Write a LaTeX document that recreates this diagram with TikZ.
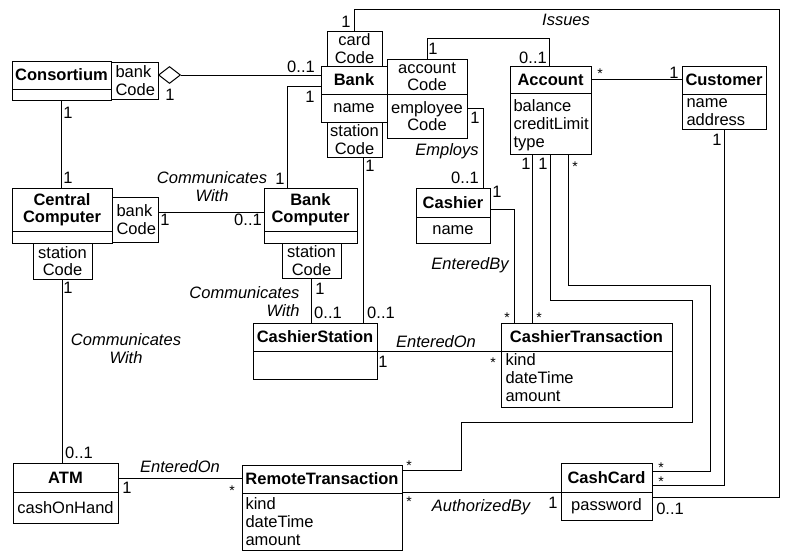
\documentclass[tikz,border=0pt]{standalone}
\usepackage{fontspec}
\setmainfont{Liberation Sans}
\usetikzlibrary{shapes.geometric}
\newcommand\umlbox[5]{\node[cls, minimum width={(#4-#2)*1pt}, minimum height={(#5-#3)*1pt}] (#1) at (#2,#3) {};}
\newcommand\divider[2]{\draw (#1.west |- 0,#2) -- (#1.east |- 0,#2);}
\begin{document}
\begin{tikzpicture}[x=1pt, y=-1pt, line width=1pt,
  cls/.style={draw, inner sep=0pt, outer sep=0pt, anchor=north west},
  txt/.style={inner sep=0pt, font=\fontsize{16.5}{17.5}\selectfont},
  ast/.style={inner sep=0pt, font=\fontsize{14}{14}\selectfont, yshift=-3.1pt},
  ttl/.style={inner sep=0pt, font=\fontsize{16.5}{17.5}\selectfont\bfseries, align=center},
  qual/.style={txt, align=center},
  itl/.style={inner sep=0pt, font=\fontsize{16.5}{17.5}\selectfont\itshape, align=center},
  attr/.style={txt, anchor=base west}]
\useasboundingbox (0,0) rectangle (794,557);

% ---------- classes ----------
\umlbox{cons}{12}{61}{111}{100}
\divider{cons}{89}
\node[ttl] (consT) at (61.5,75) {Consortium};
\umlbox{consq}{111}{62}{158}{99}
\node[qual, align=left, anchor=west] (consqT) at (115,80.5) {bank\\Code};
\node[diamond, draw, minimum width=22pt, minimum height=17pt, inner sep=0pt, anchor=west] (agg) at (158,75) {};

\umlbox{bank}{321}{66}{387}{122}
\divider{bank}{94}
\node[ttl] (bankT) at (354,80) {Bank};
\node[txt] (bankA) at (354,108) {name};
\umlbox{cq}{327}{31}{382}{66}
\node[qual] (cqT) at (354.5,48.5) {card\\Code};
\umlbox{bsq}{327}{122}{382}{157}
\node[qual] (bsqT) at (354.5,139.5) {station\\Code};
\umlbox{aq}{387}{59}{467}{94}
\node[qual] (aqT) at (427,76.5) {account\\Code};
\umlbox{eq}{387}{94}{467}{138}
\node[qual] (eqT) at (427,116) {employee\\Code};

\umlbox{acc}{510}{66}{591}{154}
\divider{acc}{93}
\node[ttl] (accT) at (550.5,79.5) {Account};
\node[attr] (accA1) at (513,111) {balance};
\node[attr] (accA2) at (513,129) {creditLimit};
\node[attr] (accA3) at (513,147) {type};

\umlbox{cus}{682}{66}{766}{129}
\divider{cus}{94}
\node[ttl] (cusT) at (724,80) {Customer};
\node[attr] (cusA1) at (686,107) {name};
\node[attr] (cusA2) at (686,125) {address};

\umlbox{cc}{12}{188}{112}{243}
\divider{cc}{231}
\node[ttl] (ccT) at (62,209.5) {Central\\Computer};
\umlbox{ccbq}{112}{197}{158}{242}
\node[qual, align=left, anchor=west] (ccbqT) at (116,219.5) {bank\\Code};
\umlbox{ccsq}{33}{243}{92}{279}
\node[qual] (ccsqT) at (62.5,261) {station\\Code};

\umlbox{bc}{264}{188}{357}{243}
\divider{bc}{231}
\node[ttl] (bcT) at (310.5,209.5) {Bank\\Computer};
\umlbox{bcsq}{282}{243}{341}{278}
\node[qual] (bcsqT) at (311.5,260.5) {station\\Code};

\umlbox{cas}{416}{188}{490}{243}
\divider{cas}{217}
\node[ttl] (casT) at (453,202.5) {Cashier};
\node[txt] (casA) at (453,230) {name};

\umlbox{cs}{253}{323}{377}{379}
\divider{cs}{351}
\node[ttl] (csT) at (315,337) {CashierStation};

\umlbox{ct}{501}{323}{672}{407}
\divider{ct}{351}
\node[ttl] (ctT) at (586.5,337) {CashierTransaction};
\node[attr] (ctA1) at (505,365) {kind};
\node[attr] (ctA2) at (505,383) {dateTime};
\node[attr] (ctA3) at (505,401) {amount};

\umlbox{atm}{13}{463}{118}{523}
\divider{atm}{492}
\node[ttl] (atmT) at (65.5,477.5) {ATM};
\node[txt] (atmA) at (65.5,507.5) {cashOnHand};

\umlbox{rt}{242}{465}{402}{550}
\divider{rt}{493}
\node[ttl] (rtT) at (322,479) {RemoteTransaction};
\node[attr] (rtA1) at (245,509) {kind};
\node[attr] (rtA2) at (245,527) {dateTime};
\node[attr] (rtA3) at (245,545) {amount};

\umlbox{card}{561}{463}{652}{520}
\divider{card}{492}
\node[ttl] (cardT) at (606.5,477.5) {CashCard};
\node[txt] (cardA) at (606.5,506) {password};

% ---------- connectors ----------
\draw (agg.east) -- (bank.west |- agg.east);
\draw (cons.south) -- (cons.south |- cc.north);
\draw (ccbq.east |- 0,212) -- (bc.west |- 0,212);
\draw (ccsq.south) -- (ccsq.south |- atm.north);
\draw (bank.west |- 0,86) -| (bc.north -| 287,0);
\draw (bcsq.south) -- (bcsq.south |- cs.north);
\draw (bsq.south -| 363,0) -- (cs.north -| 363,0);
\draw (aq.north) |- (549,38) -- (acc.north -| 549,0);
\draw (eq.east |- 0,108) -| (cas.north -| 483,0);
\draw (cas.east |- 0,209) -| (ct.north -| 514,0);
\draw (cs.east |- 0,351) -- (ct.west |- 0,351);
\draw (acc.south -| 532,0) -- (ct.north -| 532,0);
\draw (acc.south -| 550,0) |- (692,300) |- (461,422) |- (rt.east |- 0,470);
\draw (acc.south -| 568,0) |- (710,285) |- (card.east |- 0,471);
\draw (cus.south) |- (card.east |- 0,485);
\draw (cq.north) |- (779,9) |- (card.east |- 0,497);
\draw (acc.east |- 0,79) -- (cus.west |- 0,79);
\draw (atm.east |- 0,478) -- (rt.west |- 0,478);
\draw (rt.east |- 0,492) -- (card.west |- 0,492);

% ---------- labels ----------
\node[txt] (m1) at (301,67) {0..1};
\node[txt] (m2) at (170,95) {1};
\node[txt] (m3) at (68,113) {1};
\node[txt] (m4) at (68,178) {1};
\node[txt] (m5) at (165,220) {1};
\node[txt] (m6) at (248,220) {0..1};
\node[itl] (n1) at (212,186.5) {Communicates\\With};
\node[txt] (m7) at (68,288) {1};
\node[itl] (n2) at (126,348.5) {Communicates\\With};
\node[txt] (m8) at (79,453) {0..1};
\node[itl] (n3) at (180,467) {EnteredOn};
\node[txt] (m9) at (127,488) {1};
\node[ast] (m10) at (232,488) {*};
\node[txt] (m11) at (310,97) {1};
\node[txt] (m12) at (280,179) {1};
\node[txt] (m13) at (320,289) {1};
\node[txt] (m14) at (328,313) {0..1};
\node[itl, align=right, anchor=east] (n4) at (300,301.5) {Communicates\\With};
\node[txt] (m15) at (370,166) {1};
\node[txt] (m16) at (381,313) {0..1};
\node[txt] (m17) at (346,22) {1};
\node[itl] (n5) at (566,20) {Issues};
\node[txt] (m18) at (433,49) {1};
\node[txt] (m19) at (533,58) {0..1};
\node[txt] (m20) at (475,118) {1};
\node[itl] (n6) at (447,151) {Employs};
\node[txt] (m21) at (465,178) {0..1};
\node[txt] (m22) at (497,192) {1};
\node[itl] (n7) at (470,265) {EnteredBy};
\node[ast] (m23) at (507,315) {*};
\node[txt] (m24) at (526,164) {1};
\node[txt] (m25) at (543,164) {1};
\node[ast] (m26) at (575,164) {*};
\node[ast] (m27) at (539,315) {*};
\node[ast] (m28) at (600,71) {*};
\node[txt] (m29) at (674,73) {1};
\node[txt] (m30) at (717,140) {1};
\node[itl] (n8) at (436,342) {EnteredOn};
\node[txt] (m31) at (383,362) {1};
\node[ast] (m32) at (493,360) {*};
\node[ast] (m33) at (409,463) {*};
\node[ast] (m34) at (409,499) {*};
\node[itl] (n9) at (481,507) {AuthorizedBy};
\node[txt] (m35) at (553,503) {1};
\node[ast] (m36) at (661,464.5) {*};
\node[ast] (m37) at (661,478.5) {*};
\node[txt] (m38) at (670,509) {0..1};
\end{tikzpicture}
\end{document}
